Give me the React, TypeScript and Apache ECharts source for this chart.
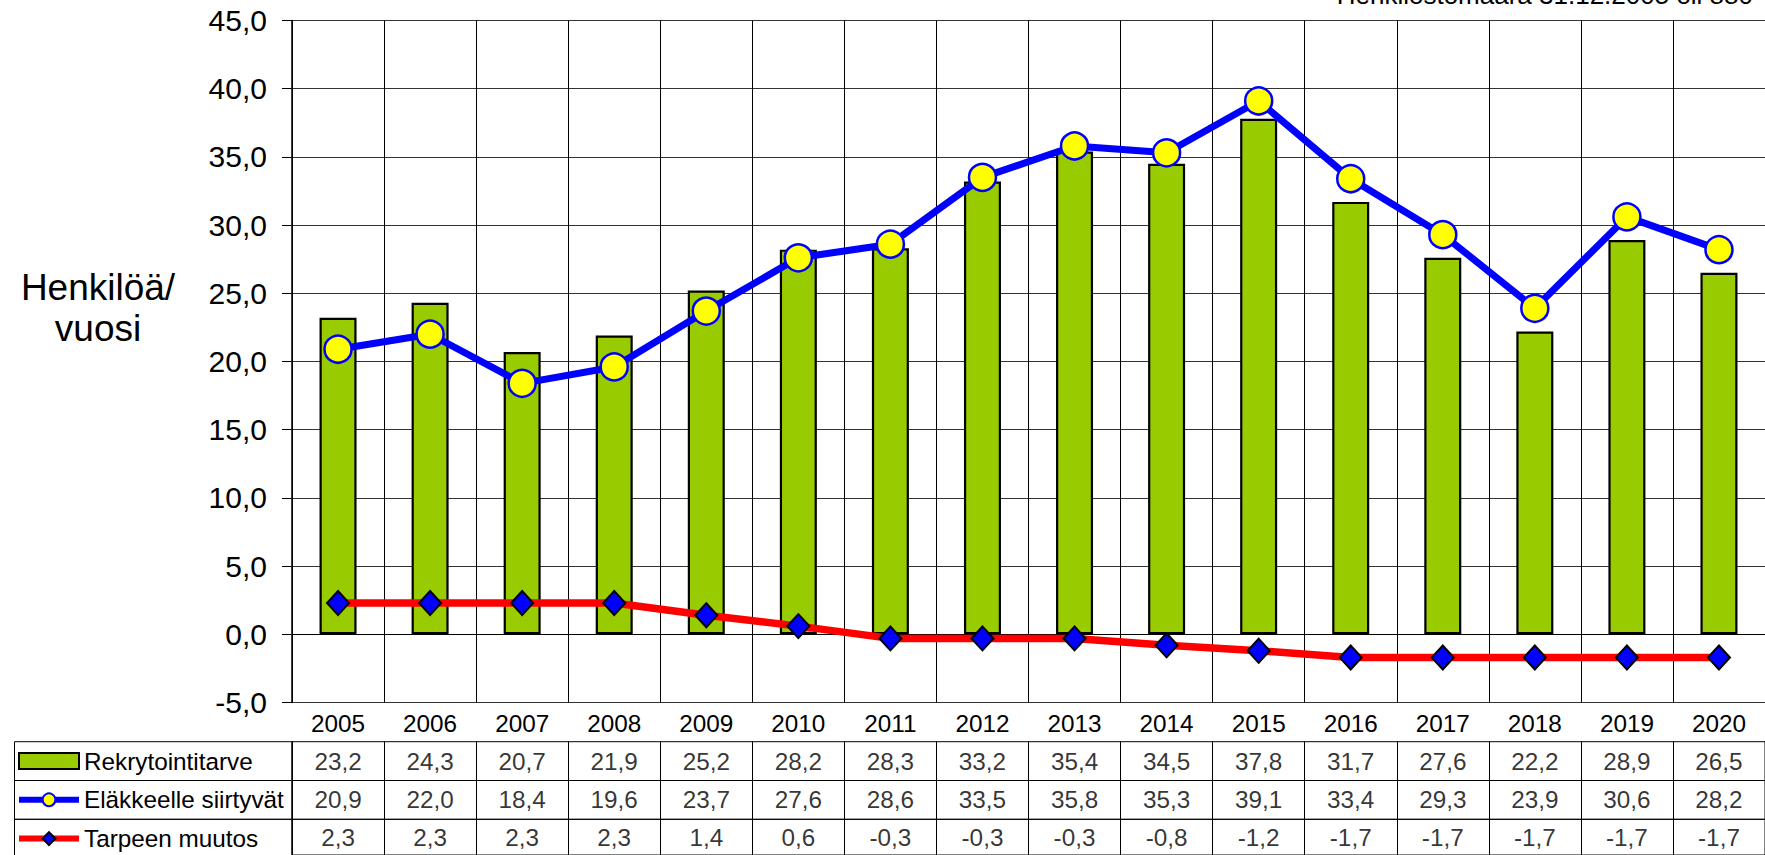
import React, { useEffect, useRef } from "react";
import * as echarts from "echarts";

const years = ["2005", "2006", "2007", "2008", "2009", "2010", "2011", "2012", "2013", "2014", "2015", "2016", "2017", "2018", "2019", "2020"];
const rekrytointitarve = [23.2, 24.3, 20.7, 21.9, 25.2, 28.2, 28.3, 33.2, 35.4, 34.5, 37.8, 31.7, 27.6, 22.2, 28.9, 26.5];
const elakkeelleSiirtyvat = [20.9, 22.0, 18.4, 19.6, 23.7, 27.6, 28.6, 33.5, 35.8, 35.3, 39.1, 33.4, 29.3, 23.9, 30.6, 28.2];
const tarpeenMuutos = [2.3, 2.3, 2.3, 2.3, 1.4, 0.6, -0.3, -0.3, -0.3, -0.8, -1.2, -1.7, -1.7, -1.7, -1.7, -1.7];
const seriesNames = ["Rekrytointitarve", "Eläkkeelle siirtyvät", "Tarpeen muutos"];
const yMin = -5;
const yMax = 45;
const yInterval = 5;
const yAxisTitle = "Henkilöä/\nvuosi";
const noteText = "Henkilöstömäärä 31.12.2005 oli 880";

const FONT = "'Liberation Sans', Arial, Helvetica, sans-serif";
const fmt = (v: number) => v.toFixed(1).replace(".", ",");

export default function App() {
  const ref = useRef<HTMLDivElement>(null);

  useEffect(() => {
    document.body.style.margin = "0";
    if (!ref.current) return;
    const chart = echarts.init(ref.current, undefined, { renderer: "svg" });

    const plotLeft = 292;
    const plotTop = 20.5;
    const plotHeight = 682;
    const rowTops = [741.7, 780.5, 819.3];
    const rowH = 38.8;
    const tableRows = [rekrytointitarve, elakkeelleSiirtyvat, tarpeenMuutos];
    const tableFont = 24.3;

    const option: any = {
      animation: false,
      backgroundColor: "#ffffff",
      textStyle: { fontFamily: FONT },
      grid: [
        { left: plotLeft, right: 0, top: plotTop, height: plotHeight },
        ...rowTops.map((t) => ({
          left: plotLeft,
          right: 0,
          top: t,
          height: rowH,
          show: true,
          borderColor: "#000",
          borderWidth: 1,
          backgroundColor: "transparent",
        })),
      ],
      xAxis: [
        {
          type: "category",
          gridIndex: 0,
          data: years,
          boundaryGap: true,
          axisLine: { show: true, lineStyle: { color: "#000", width: 1 } },
          axisTick: { show: true, interval: 0, length: 39, lineStyle: { color: "#000", width: 1 } },
          axisLabel: { interval: 0, fontSize: tableFont, color: "#000", margin: 9, fontFamily: FONT },
          splitLine: { show: true, interval: 0, lineStyle: { color: "#000", width: 1 } },
        },
        ...rowTops.map((_, i) => ({
          type: "category",
          gridIndex: i + 1,
          data: years,
          boundaryGap: true,
          axisLine: { show: false },
          axisTick: { show: false },
          axisLabel: { show: false },
          splitLine: { show: true, interval: 0, lineStyle: { color: "#000", width: 1 } },
        })),
      ],
      yAxis: [
        {
          type: "value",
          gridIndex: 0,
          min: yMin,
          max: yMax,
          interval: yInterval,
          axisLine: { show: true, lineStyle: { color: "#000", width: 1.5 } },
          axisTick: { show: true, length: 10, lineStyle: { color: "#000", width: 1 } },
          axisLabel: { fontSize: 30, color: "#000", margin: 25, formatter: (v: number) => fmt(v), fontFamily: FONT },
          splitLine: { show: true, lineStyle: { color: "#333", width: 1 } },
        },
        ...rowTops.map((_, i) => ({
          type: "value",
          gridIndex: i + 1,
          min: 0,
          max: 1,
          show: false,
        })),
      ],
      legend: {
        data: [
          { name: seriesNames[0], icon: "rect" },
          { name: seriesNames[1] },
          { name: seriesNames[2] },
        ],
        orient: "vertical",
        left: 16,
        top: 749,
        padding: 0,
        itemWidth: 60,
        itemHeight: 16,
        itemGap: 14.8,
        selectedMode: false,
        lineStyle: { width: 6 },
        itemStyle: { borderWidth: 2 },
        textStyle: { fontSize: tableFont, lineHeight: 24, color: "#000", fontFamily: FONT },
      },
      series: [
        {
          name: seriesNames[0],
          type: "bar",
          xAxisIndex: 0,
          yAxisIndex: 0,
          data: rekrytointitarve,
          barWidth: 37,
          itemStyle: { color: "#99CC00", borderColor: "#000", borderWidth: 2.2 },
          z: 2,
        },
        {
          name: seriesNames[1],
          type: "line",
          xAxisIndex: 0,
          yAxisIndex: 0,
          data: elakkeelleSiirtyvat,
          symbol: "circle",
          symbolSize: 27,
          lineStyle: { color: "#0000FF", width: 7 },
          itemStyle: { color: "#FFFF00", borderColor: "#0000FF", borderWidth: 2.5 },
          z: 3,
        },
        {
          name: seriesNames[2],
          type: "line",
          xAxisIndex: 0,
          yAxisIndex: 0,
          data: tarpeenMuutos,
          symbol: "diamond",
          symbolSize: [22, 24],
          lineStyle: { color: "#FF0000", width: 7.5 },
          itemStyle: { color: "#0000FF", borderColor: "#000", borderWidth: 2 },
          z: 4,
        },
        ...tableRows.map((arr, i) => ({
          name: "table" + i,
          type: "scatter",
          xAxisIndex: i + 1,
          yAxisIndex: i + 1,
          data: arr.map((v, j) => [j, 0.5, v]),
          symbolSize: 1,
          silent: true,
          itemStyle: { color: "rgba(0,0,0,0)" },
          label: {
            show: true,
            position: "inside",
            formatter: (p: any) => fmt(p.value[2]),
            fontSize: tableFont,
            color: "#000",
            fontFamily: FONT,
          },
        })),
      ],
      graphic: [
        {
          type: "text",
          x: 98,
          y: 266.7,
          style: {
            text: yAxisTitle,
            font: `37px ${FONT}`,
            fill: "#000",
            align: "center",
            verticalAlign: "top",
            lineHeight: 41,
          },
        },
        {
          type: "text",
          x: 1753,
          y: 8,
          style: {
            text: noteText,
            font: `26px ${FONT}`,
            fill: "#000",
            align: "right",
            verticalAlign: "bottom",
          },
        },
        ...rowTops.map((t) => ({
          type: "rect",
          shape: { x: 14.5, y: t, width: plotLeft - 14.5, height: rowH },
          style: { fill: "none", stroke: "#000", lineWidth: 1 },
          z: -1,
        })),
      ],
    };

    chart.setOption(option);
    return () => chart.dispose();
  }, []);

  return <div ref={ref} style={{ width: 1765, height: 855 }} />;
}
